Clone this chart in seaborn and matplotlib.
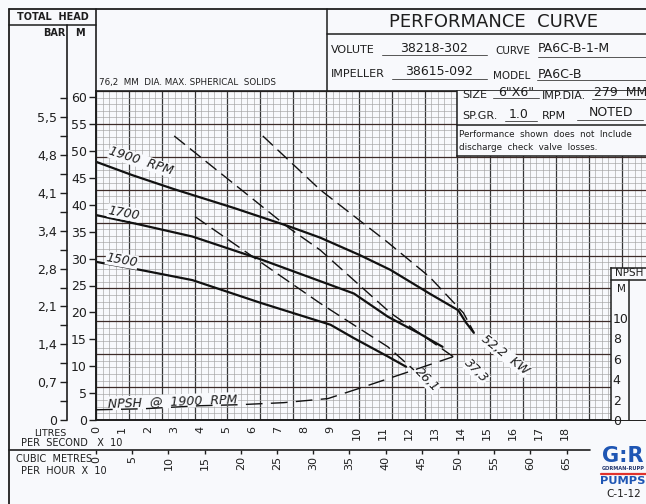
import matplotlib.pyplot as plt
import seaborn as sns
from matplotlib.lines import Line2D
from matplotlib.ticker import MultipleLocator, FixedLocator, FixedFormatter

# head / capacity curves (flow in L/s x 10, head in m)
flow_1900 = [0, 1.4, 3.0, 5.3, 7.4, 8.6, 10.1, 11.3, 12.8, 13.9, 14.2, 14.5]
head_1900 = [48.0, 45.5, 42.9, 39.4, 36.0, 33.9, 30.7, 27.9, 23.5, 20.4, 18.1, 16.2]
flow_1700 = [0, 1.7, 3.7, 6.3, 9.0, 9.9, 11.2, 12.4, 13.3]
head_1700 = [38.1, 36.3, 34.1, 29.9, 25.1, 23.5, 19.2, 16.1, 13.6]
flow_1500 = [0, 1.7, 3.7, 6.3, 9.0, 9.9, 11.2, 11.9]
head_1500 = [29.4, 27.9, 26.0, 21.8, 17.7, 15.2, 11.8, 9.9]

# power lines (kW)
flow_p522 = [6.4, 8.6, 11.2, 12.8, 14.1, 14.5]
head_p522 = [52.8, 42.8, 33.0, 26.6, 19.9, 16.3]
flow_p373 = [3.0, 7.4, 8.6, 11.3, 13.7, 13.9]
head_p373 = [52.8, 35.7, 31.6, 19.9, 11.8, 11.4]
flow_p261 = [3.8, 6.3, 8.6, 11.2, 12.2]
head_p261 = [37.8, 29.4, 21.7, 13.6, 9.3]

# NPSH @ 1900 rpm (m)
flow_npsh = [0, 1.8, 4.0, 5.5, 7.2, 8.9, 10.1, 12.2, 13.7]
npsh_1900 = [1.0, 1.1, 1.4, 1.5, 1.7, 2.1, 3.1, 4.9, 6.2]

head_ticks = list(range(0, 65, 5))
flow_ticks = list(range(0, 19))
cmh_ticks = list(range(0, 70, 5))
npsh_ticks = [0, 2, 4, 6, 8, 10]
bar_major = [k * 0.6895 for k in range(9)]
bar_minor = [k * 0.6895 + 0.3447 for k in range(9)]
bar_labels = ['0', '0,7', '1,4', '2,1', '2,8', '3,4', '4,1', '4,8', '5,5']

W, H = 646, 504
BG = '#f8f9fc'
INK = '#1e1e1e'

sns.set_style('white')
plt.rcParams['font.family'] = ['DejaVu Sans']

fig = plt.figure(figsize=(W / 100, H / 100), dpi=100, facecolor=BG)


def box(l, t, r, b):
    return [l / W, 1 - b / H, (r - l) / W, (b - t) / H]


def fline(x0, y0, x1, y1, lw=1.1, color=INK):
    fig.add_artist(Line2D([x0 / W, x1 / W], [1 - y0 / H, 1 - y1 / H], color=color, lw=lw))


def ftext(x, y, s, size=8, ha='left', va='center', color=INK, **kw):
    fig.text(x / W, 1 - y / H, s, fontsize=size, ha=ha, va=va, color=color, **kw)


# graph paper background
paper = fig.add_axes(box(96, 91, 646, 420))
paper.set_facecolor(BG)
paper.set_xlim(0, 550 / 32.85)
paper.set_ylim(0, 329 / 32.9)
paper.xaxis.set_major_locator(MultipleLocator(1))
paper.xaxis.set_minor_locator(MultipleLocator(0.2))
paper.yaxis.set_major_locator(MultipleLocator(1))
paper.yaxis.set_minor_locator(MultipleLocator(0.2))
paper.grid(which='minor', color='#a2a2a2', lw=0.45)
paper.grid(which='major', axis='x', color='#363636', lw=0.9)
paper.grid(which='major', axis='y', color='#3d2b28', lw=0.9)
paper.tick_params(which='both', length=0, labelbottom=False, labelleft=False)
for side in ['left', 'top', 'bottom']:
    paper.spines[side].set_color(INK)
    paper.spines[side].set_linewidth(1.2)
paper.spines['right'].set_visible(False)

# data axes
ax = fig.add_axes(box(96, 91, 646, 420), facecolor='none')
ax.set_xlim(0, 550 / 26.06)
ax.set_ylim(0, 329 / 5.38)
for side in ['top', 'right']:
    ax.spines[side].set_visible(False)
for side in ['left', 'bottom']:
    ax.spines[side].set_color(INK)
    ax.spines[side].set_linewidth(1.2)

for fl, hd in [(flow_1900, head_1900), (flow_1700, head_1700), (flow_1500, head_1500)]:
    sns.lineplot(x=fl, y=hd, ax=ax, color='#111111', lw=1.6, estimator=None, sort=False)
for fl, hd in [(flow_p522, head_p522), (flow_p373, head_p373), (flow_p261, head_p261)]:
    sns.lineplot(x=fl, y=hd, ax=ax, color='#111111', lw=1.0, linestyle=(0, (10, 4.5)),
                 estimator=None, sort=False)

ax.set_xticks(flow_ticks)
ax.set_yticks(head_ticks)
ax.tick_params(axis='x', length=3, width=1, pad=1.5, labelsize=8, labelrotation=90, colors=INK)
ax.tick_params(axis='y', length=5, width=1, pad=1.5, labelsize=9, colors=INK)
ax.set_xlabel('')
ax.set_ylabel('')

lab = dict(color=INK, fontsize=9, style='italic', ha='center', va='center',
           bbox=dict(facecolor=BG, edgecolor='none', pad=0.3))
ax.text(1.73, 48.1, '1900  RPM', rotation=-18, **lab)
ax.text(1.07, 38.5, '1700', rotation=-10, **lab)
ax.text(0.99, 29.7, '1500', rotation=-10, **lab)
ax.text(15.7, 12.1, '52,2  KW', rotation=-38, **lab)
ax.text(14.58, 9.1, '37,3', rotation=-45, **lab)
ax.text(12.7, 7.4, '26,1', rotation=-45, **lab)
ax.text(2.95, 3.5, 'NPSH  @  1900  RPM', rotation=2, **lab)

# NPSH curve on its own scale
nax = ax.twinx()
nax.set_ylim(0, 329 / 10.2)
nax.axis('off')
sns.lineplot(x=flow_npsh, y=npsh_1900, ax=nax, color='#111111', lw=1.0,
             linestyle=(0, (12, 6)), estimator=None, sort=False)

# cubic metres per hour axis
cmh = ax.secondary_xaxis(-30 / 329, functions=(lambda q: q * 3.6, lambda q: q / 3.6))
cmh.xaxis.set_major_locator(FixedLocator(cmh_ticks))
cmh.tick_params(axis='x', length=3, width=1, pad=1.5, labelsize=8, labelrotation=90, colors=INK)
cmh.spines['bottom'].set_visible(False)

# bar axis
bar = ax.secondary_yaxis(-29 / 550, functions=(lambda m: m / 10.2, lambda b: b * 10.2))
bar.yaxis.set_major_locator(FixedLocator(bar_major))
bar.yaxis.set_major_formatter(FixedFormatter(bar_labels))
bar.yaxis.set_minor_locator(FixedLocator(bar_minor))
bar.tick_params(axis='y', which='both', length=5, width=1, pad=2, labelsize=9, colors=INK)
bar.spines['left'].set_visible(False)

# info box over the paper
info = fig.add_axes(box(457, 91, 646, 156))
info.set_facecolor(BG)
info.set_xticks([])
info.set_yticks([])
for side in ['top', 'right']:
    info.spines[side].set_visible(False)
for side in ['left', 'bottom']:
    info.spines[side].set_color(INK)
    info.spines[side].set_linewidth(1.1)

# NPSH scale box
npsh = fig.add_axes(box(611, 268, 646, 420))
npsh.set_facecolor(BG)
npsh.set_ylim(0, 152 / 10.2)
npsh.set_xticks([])
npsh.set_yticks(npsh_ticks)
npsh.tick_params(axis='y', direction='inout', length=4, width=1, pad=-3.2, labelsize=9, colors=INK)
for t in npsh.get_yticklabels():
    t.set_horizontalalignment('left')
for side in ['right', 'bottom']:
    npsh.spines[side].set_visible(False)
for side in ['left', 'top']:
    npsh.spines[side].set_color(INK)
    npsh.spines[side].set_linewidth(1.1)

# frame lines
fline(9, 9, 9, 504, lw=1.3)
fline(9, 9, 646, 9, lw=1.3)
fline(9, 25, 96, 25)
fline(96, 9, 96, 91, lw=1.2)
fline(67, 25, 67, 420, lw=1.2)
fline(327, 9, 327, 91)
fline(327, 34, 646, 34)
fline(9, 450, 590, 450, lw=1.2)
fline(457, 125, 646, 125)
fline(611, 280, 646, 280)
fline(629, 280, 629, 420)

# underlines
for x0, x1, y in [(382, 487, 55), (538, 646, 57), (392, 487, 79), (537, 646, 80),
                  (493, 539, 98), (592, 646, 99), (505, 537, 121), (577, 643, 120)]:
    fline(x0, y, x1, y, lw=0.7, color='#555555')

# header texts
ftext(53, 17, 'TOTAL  HEAD', size=7, ha='center', weight='bold')
ftext(54, 33, 'BAR', size=7, ha='center', weight='bold')
ftext(80, 33, 'M', size=7, ha='center', weight='bold')
ftext(99, 83, '76,2  MM  DIA. MAX. SPHERICAL  SOLIDS', size=6.3)
ftext(494, 22, 'PERFORMANCE  CURVE', size=13, ha='center')
ftext(331, 50, 'VOLUTE', size=8)
ftext(434, 48, '38218-302', size=9, ha='center')
ftext(495, 51, 'CURVE', size=7.5)
ftext(538, 49, 'PA6C-B-1-M', size=9)
ftext(331, 74, 'IMPELLER', size=8)
ftext(439, 72, '38615-092', size=9, ha='center')
ftext(493, 76, 'MODEL', size=7.5)
ftext(538, 74, 'PA6C-B', size=9)
ftext(462, 95, 'SIZE', size=8)
ftext(516, 93, '6"X6"', size=9, ha='center')
ftext(542, 96, 'IMP.DIA.', size=8)
ftext(594, 93, '279  MM', size=9)
ftext(462, 116, 'SP.GR.', size=8)
ftext(519, 114, '1.0', size=9, ha='center')
ftext(542, 116, 'RPM', size=8)
ftext(611, 113, 'NOTED', size=9, ha='center')
ftext(459, 135, 'Performance  shown  does  not  Include', size=6.3)
ftext(459, 147, 'discharge  check  valve  losses.', size=6.3)

# axis captions
ftext(629, 273, 'NPSH', size=7.5, ha='center')
ftext(621, 289, 'M', size=7.5, ha='center')
ftext(50, 433, 'LITRES', size=6.8, ha='center')
ftext(21, 443, 'PER  SECOND   X  10', size=7)
ftext(16, 459, 'CUBIC  METRES', size=7)
ftext(21, 471, 'PER  HOUR  X  10', size=7)

# logo
ftext(602, 456, 'G:R', size=15, weight='bold', color='#1f56b4')
ftext(602, 469, 'GORMAN-RUPP', size=3.6, weight='bold', color='#23366e')
fline(601, 474, 646, 474, lw=1.6, color='#e0322d')
ftext(600, 481, 'PUMPS', size=8.2, weight='bold', color='#1f56b4')
ftext(624, 494, 'C-1-12', size=7.5, ha='center')

fig.savefig('out.png', dpi=100, facecolor=BG)
